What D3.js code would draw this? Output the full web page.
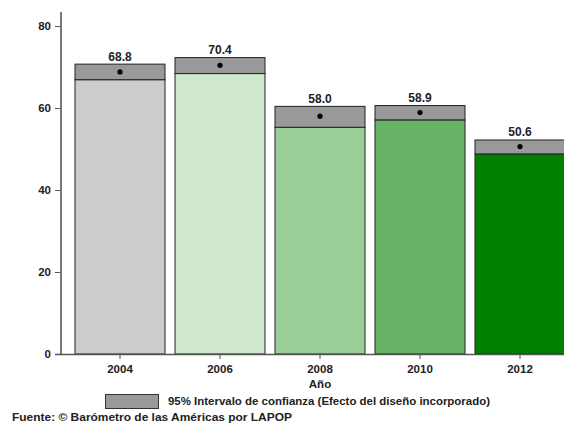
<!DOCTYPE html>
<html><head><meta charset="utf-8">
<script src="https://cdn.jsdelivr.net/npm/d3@7"></script>
<style>body{margin:0;background:#fff}svg{display:block}text{font-family:"Liberation Sans",Arial,sans-serif;font-weight:bold}</style>
</head><body><svg id="c" width="564" height="423"></svg>
<script>
const years = ["2004","2006","2008","2010","2012"];
const means = [68.8, 70.4, 58.0, 58.9, 50.6];
const lower = [66.9, 68.4, 55.3, 57.1, 48.8];
const upper = [70.7, 72.3, 60.4, 60.6, 52.2];
const colors = ["#cccccc","#cfe7cd","#9bcf98","#66b266","#008000"];
const yTicks = [0,20,40,60,80];

const svg = d3.select("#c");
const y = d3.scaleLinear().domain([0,80]).range([354,26]);
const x = d3.scaleBand().domain(years).range([70,570]).paddingInner(0.1).paddingOuter(0.05);

const g = svg.append("g");
years.forEach((yr,i)=>{
  const x0 = x(yr), w = x.bandwidth();
  g.append("rect").attr("x",x0).attr("y",y(lower[i])).attr("width",w).attr("height",y(0)-y(lower[i]))
    .attr("fill",colors[i]).attr("stroke","#222").attr("stroke-width",1);
  g.append("rect").attr("x",x0).attr("y",y(upper[i])).attr("width",w).attr("height",y(lower[i])-y(upper[i]))
    .attr("fill","#999999").attr("stroke","#222").attr("stroke-width",1);
  g.append("circle").attr("cx",x0+w/2).attr("cy",y(means[i])).attr("r",2.6).attr("fill","#000");
  g.append("text").attr("x",x0+w/2).attr("y",y(upper[i])-3.5).attr("text-anchor","middle")
    .attr("font-size",12).attr("fill","#222").text(means[i].toFixed(1));
});

// y axis
const ya = svg.append("g").attr("transform","translate(61,0)")
  .call(d3.axisLeft(y).tickValues(yTicks).tickSize(6).tickPadding(4));
ya.select(".domain").remove();
ya.selectAll("line").attr("stroke","#555");
ya.selectAll("text").attr("font-size",11.5).attr("fill","#222").attr("font-family","Liberation Sans, Arial").attr("font-weight","bold");
svg.append("line").attr("x1",61).attr("x2",61).attr("y1",12).attr("y2",354.5).attr("stroke","#777").attr("stroke-width",2);

// x axis
const xa = svg.append("g").attr("transform","translate(0,354)")
  .call(d3.axisBottom(x).tickSize(5).tickPadding(6));
xa.select(".domain").remove();
xa.selectAll("line").attr("stroke","#555");
xa.selectAll("text").attr("font-size",11.5).attr("fill","#222").attr("font-family","Liberation Sans, Arial").attr("font-weight","bold");
svg.append("line").attr("x1",55).attr("x2",564).attr("y1",354.5).attr("y2",354.5).attr("stroke","#555").attr("stroke-width",1.5);

svg.append("text").attr("x",320).attr("y",388).attr("text-anchor","middle").attr("font-size",11.5).attr("fill","#222").text("Año");

// legend
svg.append("rect").attr("x",105.5).attr("y",394.5).attr("width",53).attr("height",14).attr("fill","#999").attr("stroke","#333");
svg.append("text").attr("x",168).attr("y",405).attr("font-size",11).attr("fill","#222")
  .attr("textLength",322).attr("lengthAdjust","spacingAndGlyphs").text("95% Intervalo de confianza (Efecto del diseño incorporado)");
svg.append("text").attr("x",12).attr("y",420.5).attr("font-size",11).attr("fill","#222")
  .attr("textLength",280).attr("lengthAdjust","spacingAndGlyphs").text("Fuente: © Barómetro de las Américas por LAPOP");
</script></body></html>
